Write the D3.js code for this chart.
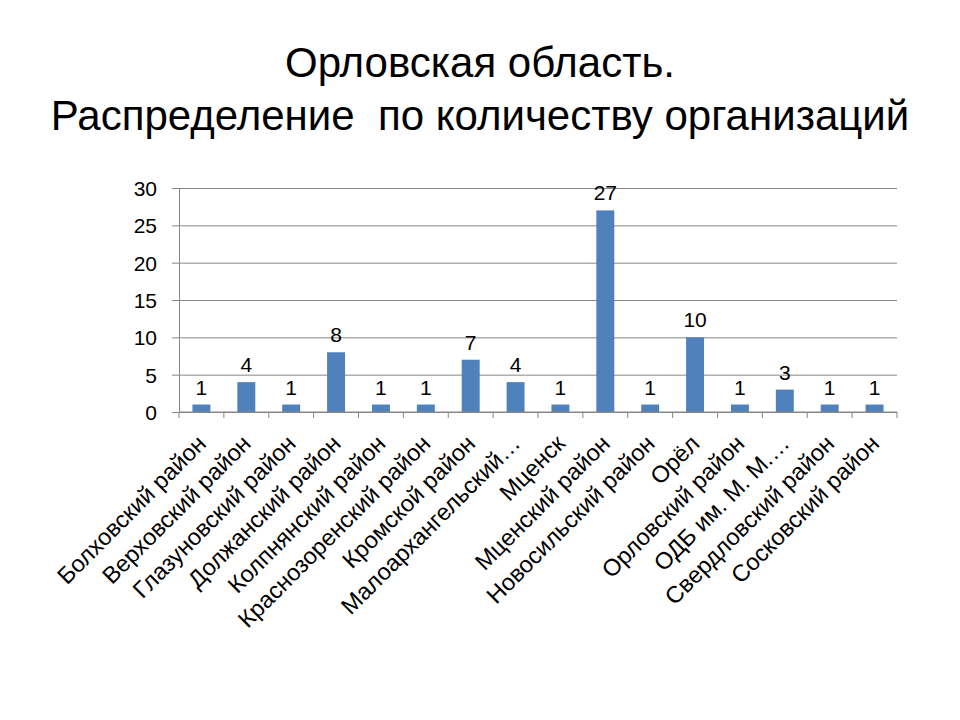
<!DOCTYPE html>
<html>
<head>
<meta charset="utf-8">
<script src="https://cdn.jsdelivr.net/npm/d3@7"></script>
<style>
  body { margin: 0; background: #fff; }
  text { font-family: "Liberation Sans", Arial, sans-serif; fill: #000; }
</style>
</head>
<body>
<svg id="chart" width="960" height="720"></svg>
<script>
// districts and counts
var districts = ["Болховский район", "Верховский район", "Глазуновский район", "Должанский район",
    "Колпнянский район", "Краснозоренский район", "Кромской район", "Малоархангельский…",
    "Мценск", "Мценский район", "Новосильский район", "Орёл", "Орловский район",
    "ОДБ им. М. М.…", "Свердловский район", "Сосковский район"];
var counts = [1, 4, 1, 8, 1, 1, 7, 4, 1, 27, 1, 10, 1, 3, 1, 1];
var yTicks = [0, 5, 10, 15, 20, 25, 30];
var titleLines = ["Орловская область.", "Распределение  по количеству организаций"];

var svg = d3.select("#chart");
var plotL = 179, plotR = 897, plotT = 188, plotB = 412;

var y = d3.scaleLinear().domain([0, 30]).range([plotB, plotT]);
var xb = d3.scaleBand().domain(districts).range([plotL, plotR]);   // tick slots
var x = d3.scaleBand().domain(districts).range([plotL, plotR])
    .paddingInner(0.6).paddingOuter(0.3);

// title
svg.append("g").selectAll("text")
    .data(titleLines)
    .enter()
    .append("text")
    .attr("x", 480)
    .attr("y", function(d, i) { return 77 + i * 53; })
    .attr("text-anchor", "middle")
    .attr("font-size", 42)
    .style("white-space", "pre")
    .text(function(d) { return d; });

// y axis + grid
var yAxis = d3.axisLeft(y)
    .tickValues(yTicks)
    .tickSize(-(plotR - plotL))
    .tickSizeOuter(0)
    .tickPadding(22);
var gy = svg.append("g")
    .attr("transform", "translate(" + plotL + ",0)")
    .call(yAxis);
gy.select(".domain").attr("stroke", "#868686");
gy.selectAll(".tick line")
    .attr("stroke", "#868686")
    .attr("x1", -7);
gy.selectAll(".tick text")
    .attr("font-size", 21)
    .attr("font-family", "Liberation Sans, Arial, sans-serif")
    .attr("fill", "#000")
    .attr("dy", "0.36em");

// bars
svg.append("g").selectAll("rect")
    .data(counts)
    .enter()
    .append("rect")
    .attr("x", function(d, i) { return x(districts[i]); })
    .attr("width", x.bandwidth())
    .attr("y", function(d) { return y(d); })
    .attr("height", function(d) { return y(0) - y(d); })
    .attr("fill", "#4F81BD");

// value labels
svg.append("g").selectAll("text")
    .data(counts)
    .enter()
    .append("text")
    .attr("x", function(d, i) { return x(districts[i]) + x.bandwidth() / 2; })
    .attr("y", function(d) { return y(d) - 10; })
    .attr("text-anchor", "middle")
    .attr("font-size", 21)
    .text(function(d) { return d; });

// x axis line with ticks at slot edges
var gx = svg.append("g");
gx.append("line")
    .attr("x1", plotL).attr("x2", plotR)
    .attr("y1", y(0)).attr("y2", y(0))
    .attr("stroke", "#868686");
gx.selectAll(".xt")
    .data(districts.concat(["end"]))
    .enter()
    .append("line")
    .attr("class", "xt")
    .attr("x1", function(d) { return d == "end" ? plotR : xb(d); })
    .attr("x2", function(d) { return d == "end" ? plotR : xb(d); })
    .attr("y1", y(0))
    .attr("y2", y(0) + 6)
    .attr("stroke", "#868686");

// rotated category labels
gx.selectAll(".xl")
    .data(districts)
    .enter()
    .append("text")
    .attr("class", "xl")
    .attr("text-anchor", "end")
    .attr("font-size", 23.5)
    .attr("transform", function(d) {
        var cx = xb(d) + xb.bandwidth() / 2 + 6;
        return "translate(" + cx + "," + 445 + ") rotate(-45)";
    })
    .text(function(d) { return d; });
</script>
</body>
</html>
